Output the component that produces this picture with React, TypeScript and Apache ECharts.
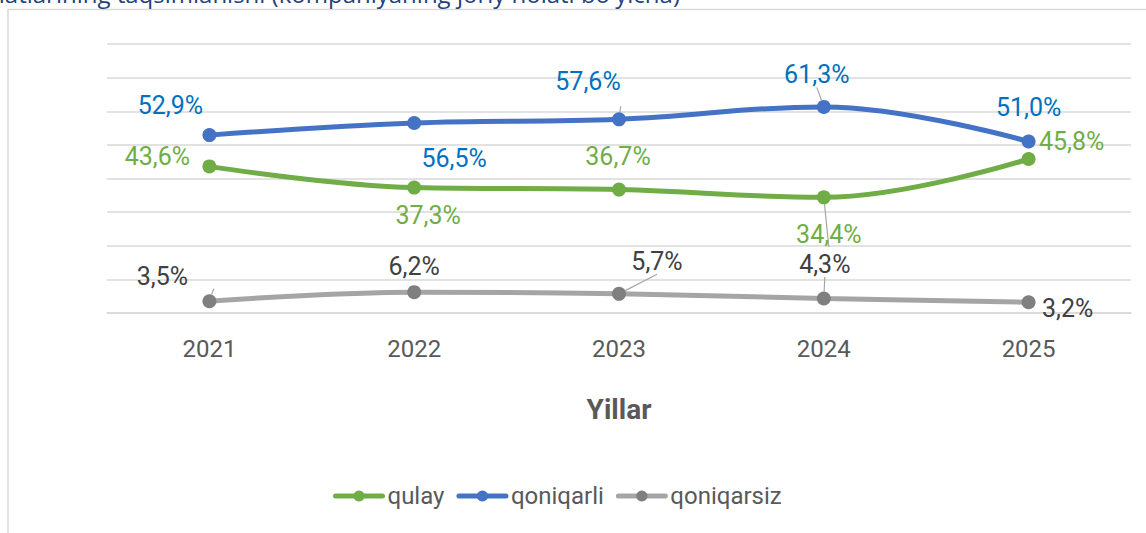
import React, { useEffect, useRef } from "react";
import * as echarts from "echarts";

const years = ["2021", "2022", "2023", "2024", "2025"];
const qulay = [43.6, 37.3, 36.7, 34.4, 45.8];
const qoniqarli = [52.9, 56.5, 57.6, 61.3, 51.0];
const qoniqarsiz = [3.5, 6.2, 5.7, 4.3, 3.2];
const seriesNames = ["qulay", "qoniqarli", "qoniqarsiz"];
const titleText = "moliyaviy holatlarining taqsimlanishi (kompaniyaning joriy holati bo'yicha)";
const axisName = "Yillar";

// label placement (label centre relative to point) and whether a leader line is drawn
const qulayLabelOffsets = [[-52, -10], [14, 28], [-1, -33], [5, 37], [43, -17]];
const qulayLeaders = [false, false, false, true, false];
const qoniqarliLabelOffsets = [[-39, -30], [40, 35], [-31, -38], [-7, -32], [0, -34]];
const qoniqarliLeaders = [false, false, true, true, false];
const qoniqarsizLabelOffsets = [[-47, -25], [0, -26], [38, -32], [1, -34], [39, 6]];
const qoniqarsizLeaders = [true, false, true, true, false];

const FONT = "Roboto, 'Noto Sans', sans-serif";

function fmt(v: number) {
  return v.toFixed(1).replace(".", ",") + "%";
}

function buildData(values: number[], offsets: number[][], leaders: boolean[]) {
  return values.map((v, i) => ({
    value: v,
    label: { offset: offsets[i] },
    labelLine: { show: leaders[i] },
  }));
}

function makeSeries(
  name: string,
  values: number[],
  offsets: number[][],
  leaders: boolean[],
  lineColor: string,
  markerColor: string,
  labelColor: string
) {
  return {
    name,
    type: "line",
    smooth: 0.4,
    data: buildData(values, offsets, leaders),
    symbol: "circle",
    symbolSize: 14,
    lineStyle: { color: lineColor, width: 5, cap: "round" },
    itemStyle: { color: markerColor },
    label: {
      show: true,
      position: "inside",
      formatter: (p: any) => fmt(p.value),
      color: labelColor,
      fontSize: 25,
      fontFamily: FONT,
    },
    labelLine: {
      show: false,
      lineStyle: { color: "#A6A6A6", width: 1.2 },
      length2: 0,
    },
    emphasis: { disabled: true },
  };
}

export default function App() {
  const ref = useRef<HTMLDivElement>(null);
  useEffect(() => {
    if (!ref.current) return;
    const chart = echarts.init(ref.current, undefined, { renderer: "svg" });
    chart.setOption({
      animation: false,
      backgroundColor: "#ffffff",
      graphic: [
        {
          type: "rect",
          shape: { x: 8, y: 9.5, width: 1300, height: 700 },
          style: { fill: "none", stroke: "#D9D9D9", lineWidth: 1.5 },
          silent: true,
        },
        {
          type: "text",
          x: 680,
          y: -7,
          style: {
            text: titleText,
            font: "24px 'Open Sans', sans-serif",
            fill: "#24417A",
            textAlign: "right",
            textVerticalAlign: "middle",
          },
          silent: true,
        },
      ],
      grid: { left: 107, right: 15, top: 44, bottom: 220 },
      legend: {
        left: 333,
        top: 484,
        padding: 0,
        itemWidth: 47,
        itemHeight: 14,
        itemGap: 12,
        lineStyle: { width: 5, cap: "round" },
        textStyle: { color: "#595959", fontSize: 24, fontFamily: FONT },
        data: seriesNames,
      },
      xAxis: {
        type: "category",
        data: years,
        boundaryGap: true,
        axisLine: { show: true, lineStyle: { color: "#D9D9D9", width: 1.5 } },
        axisTick: { show: false },
        axisLabel: { color: "#595959", fontSize: 24, fontFamily: FONT, margin: 24 },
        name: axisName,
        nameLocation: "middle",
        nameGap: 82,
        nameTextStyle: { color: "#595959", fontSize: 28, fontWeight: "bold", fontFamily: FONT },
      },
      yAxis: {
        type: "value",
        min: 0,
        max: 80,
        interval: 10,
        axisLabel: { show: false },
        axisLine: { show: false },
        axisTick: { show: false },
        splitLine: { lineStyle: { color: "#D9D9D9", width: 1.5 } },
      },
      series: [
        makeSeries(seriesNames[0], qulay, qulayLabelOffsets, qulayLeaders, "#70AD47", "#70AD47", "#70AD47"),
        makeSeries(seriesNames[1], qoniqarli, qoniqarliLabelOffsets, qoniqarliLeaders, "#4472C4", "#4472C4", "#0070C0"),
        makeSeries(seriesNames[2], qoniqarsiz, qoniqarsizLabelOffsets, qoniqarsizLeaders, "#A5A5A5", "#7F7F7F", "#404040"),
      ],
    });
    return () => chart.dispose();
  }, []);
  return (
    <div
      ref={ref}
      style={{ position: "absolute", left: 0, top: 0, width: 1146, height: 533 }}
    />
  );
}
